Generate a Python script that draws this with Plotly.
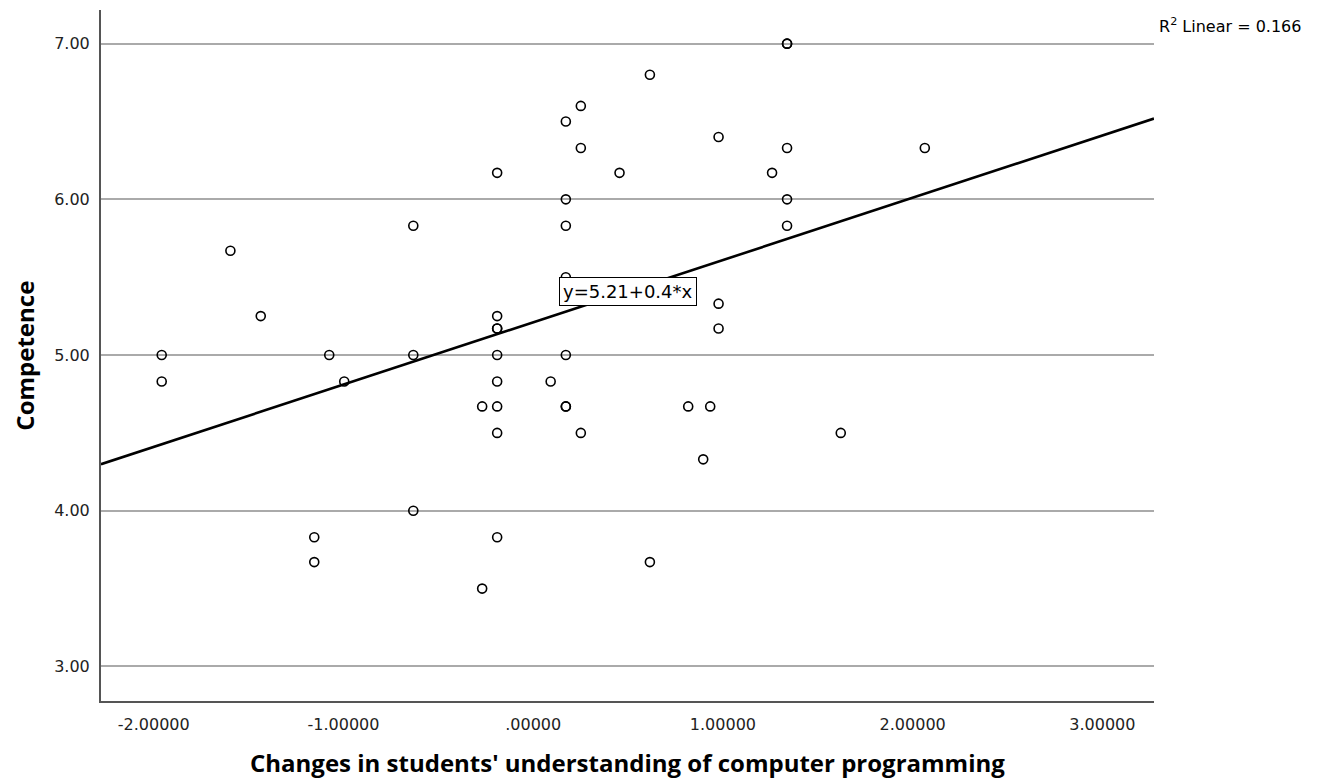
import plotly.graph_objects as go

# Data
understanding_change = [
    -1.958, -1.958, -1.596, -1.436, -1.154, -1.154, -1.075, -0.996,
    -0.632, -0.632, -0.632, -0.269, -0.269,
    -0.190, -0.190, -0.190, -0.190, -0.190, -0.190, -0.190, -0.190, -0.190,
    0.092, 0.172, 0.172, 0.172, 0.172, 0.172, 0.172, 0.172,
    0.251, 0.251, 0.251, 0.455, 0.615, 0.615, 0.817, 0.896, 0.933,
    0.977, 0.977, 0.977, 1.259, 1.338, 1.338, 1.338, 1.338, 1.338,
    1.621, 2.064,
]
competence = [
    5.00, 4.83, 5.67, 5.25, 3.83, 3.67, 5.00, 4.83,
    5.83, 5.00, 4.00, 4.67, 3.50,
    6.17, 5.25, 5.17, 5.17, 5.00, 4.83, 4.67, 4.50, 3.83,
    4.83, 6.50, 6.00, 5.83, 5.50, 5.00, 4.67, 4.67,
    6.60, 6.33, 4.50, 6.17, 6.80, 3.67, 4.67, 4.33, 4.67,
    6.40, 5.33, 5.17, 6.17, 7.00, 7.00, 6.33, 6.00, 5.83,
    4.50, 6.33,
]

fit_intercept = 5.21
fit_slope = 0.4
r_squared = 0.166

x_range = [-2.278, 3.272]
y_range = [2.778, 7.216]

x_tick_vals = [-2, -1, 0, 1, 2, 3]
x_tick_text = ["-2.00000", "-1.00000", ".00000", "1.00000", "2.00000", "3.00000"]
y_tick_vals = [3, 4, 5, 6, 7]
y_tick_text = ["3.00", "4.00", "5.00", "6.00", "7.00"]

x_title = "Changes in students' understanding of computer programming"
y_title = "Competence"

fit_x = x_range
fit_y = [fit_intercept + fit_slope * v for v in fit_x]

fig = go.Figure()
fig.add_trace(go.Scatter(
    x=fit_x, y=fit_y, mode="lines",
    line=dict(color="black", width=2.6),
    hoverinfo="skip", showlegend=False,
))
fig.add_trace(go.Scatter(
    x=understanding_change, y=competence, mode="markers",
    marker=dict(symbol="circle-open", size=9, color="black",
                line=dict(width=1.6, color="black")),
    showlegend=False,
))

tick_font = dict(family="DejaVu Sans", size=16, color="#222222")
title_font = dict(family="Open Sans", size=24, color="black")

fig.update_layout(
    width=1318, height=781,
    margin=dict(l=101, r=164, t=10, b=80),
    paper_bgcolor="white", plot_bgcolor="white",
    xaxis=dict(
        range=x_range, tickvals=x_tick_vals, ticktext=x_tick_text,
        showgrid=False, zeroline=False,
        showline=True, linecolor="#555555", linewidth=2,
        ticks="", tickfont=tick_font, ticklabelstandoff=8,
    ),
    yaxis=dict(
        range=y_range, tickvals=y_tick_vals, ticktext=y_tick_text,
        showgrid=True, gridcolor="#aaaaaa", gridwidth=1.5,
        zeroline=False,
        showline=True, linecolor="#555555", linewidth=2,
        ticks="", tickfont=tick_font, ticklabelstandoff=6,
    ),
    annotations=[
        dict(text="<b>" + x_title + "</b>", xref="paper", yref="paper",
             x=0.5, y=-0.089, xanchor="center", yanchor="middle",
             showarrow=False, font=title_font),
        dict(text="<b>" + y_title + "</b>", xref="paper", yref="paper",
             x=-0.073, y=0.5, xanchor="center", yanchor="middle",
             textangle=-90, showarrow=False, font=title_font),
        dict(text="y=%.2f+%s*x" % (fit_intercept, fit_slope),
             x=0.499, y=5.41, xref="x", yref="y",
             xanchor="center", yanchor="middle", showarrow=False,
             bgcolor="white", bordercolor="black", borderwidth=1, borderpad=3,
             font=dict(family="DejaVu Sans", size=18, color="black")),
        dict(text="R<sup>2</sup> Linear = %.3f" % r_squared,
             xref="paper", yref="paper", x=1.003, y=0.978,
             xanchor="left", yanchor="middle", showarrow=False,
             font=dict(family="DejaVu Sans", size=16, color="black")),
    ],
)

fig.write_html("out.html", config={"displayModeBar": False},
               post_script="document.body.style.margin='0';")
